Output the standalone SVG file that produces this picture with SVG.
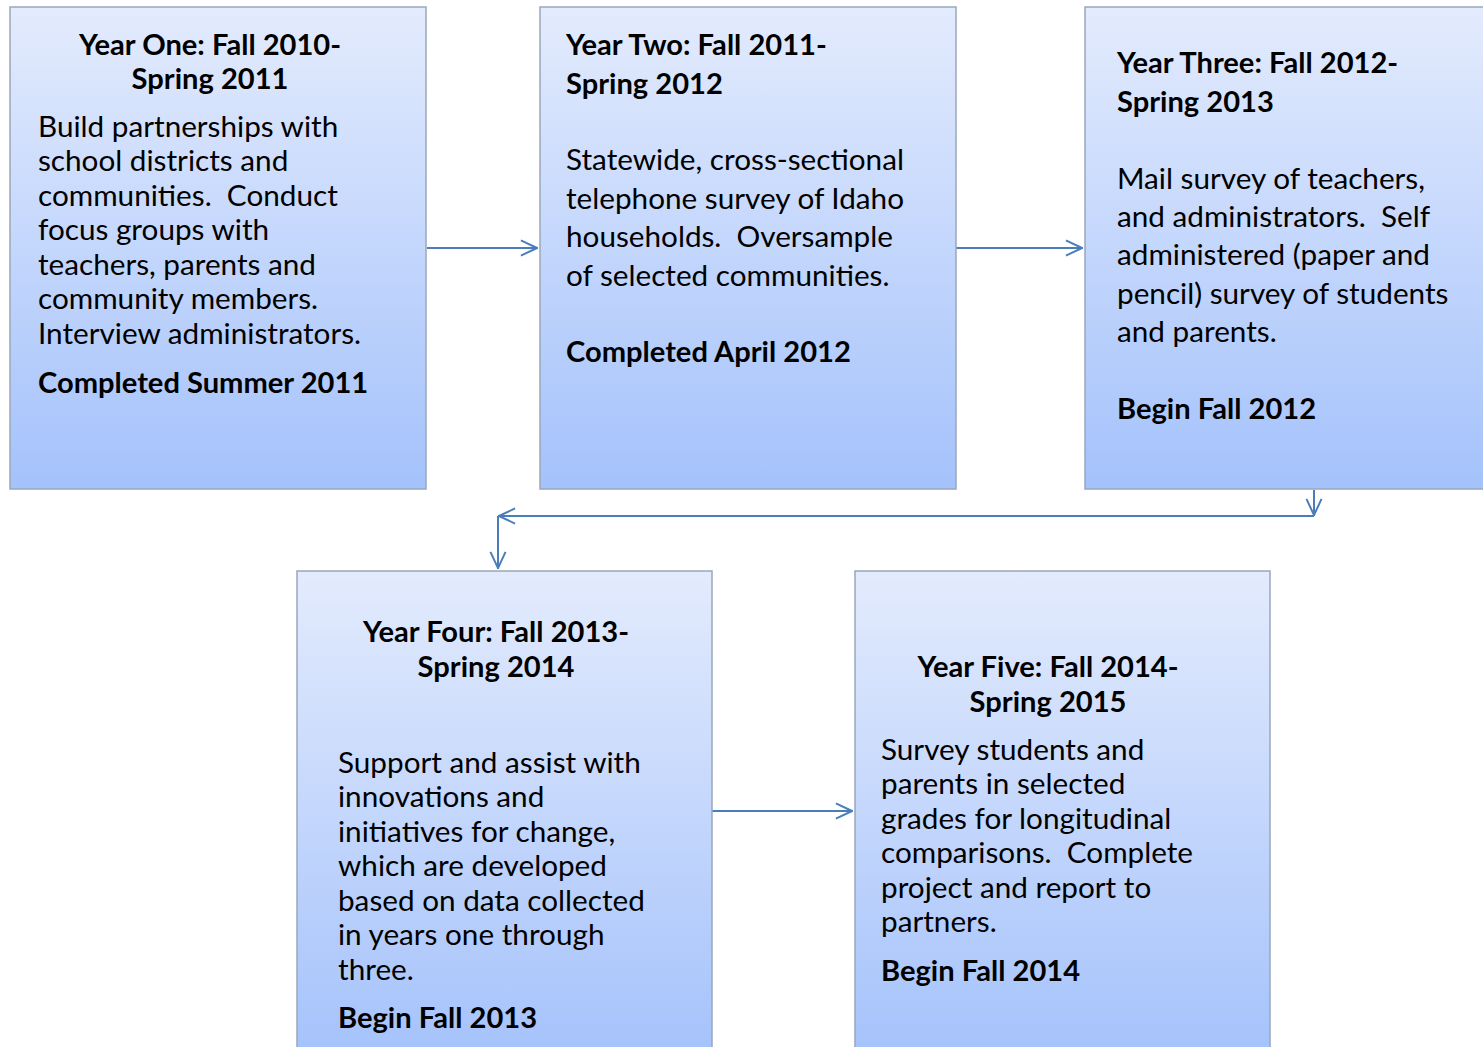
<svg xmlns="http://www.w3.org/2000/svg" width="1483" height="1047" viewBox="0 0 1483 1047">
<style>
.box{fill:url(#g);stroke:#9ba7ba;stroke-width:1.5}
text{font-family:Lato,"Open Sans","Liberation Sans",sans-serif;font-size:29.7px;fill:#000}
.t{font-weight:bold;font-size:29.1px}
.c{text-anchor:middle}
.conn{stroke:#4a7ebb;stroke-width:2;fill:none}
</style>
<defs>
<linearGradient id="g" x1="0" y1="0" x2="0" y2="1">
<stop offset="0" stop-color="#e3ebfd"/>
<stop offset="1" stop-color="#a4c2fb"/>
</linearGradient>
<marker id="ah" viewBox="0 0 10 10" refX="10" refY="5" markerWidth="18" markerHeight="18" markerUnits="userSpaceOnUse" orient="auto">
<path d="M0.5,0.8 L9.5,5 L0.5,9.2" fill="none" stroke="#4a7ebb" stroke-width="1.1"/>
</marker>
</defs>
<rect width="1483" height="1047" fill="#fff"/>
<g id="connectors">
<line class="conn" x1="427" y1="248" x2="538" y2="248" marker-end="url(#ah)"/>
<line class="conn" x1="956" y1="248" x2="1083" y2="248" marker-end="url(#ah)"/>
<line class="conn" x1="1314" y1="490" x2="1314" y2="516" marker-end="url(#ah)"/>
<line class="conn" x1="1314" y1="516" x2="498" y2="516" marker-end="url(#ah)"/>
<line class="conn" x1="498" y1="516" x2="498" y2="569" marker-end="url(#ah)"/>
<line class="conn" x1="712" y1="811" x2="853" y2="811" marker-end="url(#ah)"/>
</g>
<g id="year1">
<rect class="box" x="10" y="7" width="416" height="482"/>
<text class="t c" x="210" y="55">Year One: Fall 2010-</text>
<text class="t c" x="210" y="89">Spring 2011</text>
<text x="38" y="137">Build partnerships with</text>
<text x="38" y="171">school districts and</text>
<text x="38" y="206" xml:space="preserve">communities.  Conduct</text>
<text x="38" y="240">focus groups with</text>
<text x="38" y="275">teachers, parents and</text>
<text x="38" y="309">community members.</text>
<text x="38" y="344">Interview administrators.</text>
<text class="t" x="38" y="393">Completed Summer 2011</text>
</g>
<g id="year2">
<rect class="box" x="540" y="7" width="416" height="482"/>
<text class="t" x="566" y="55">Year Two: Fall 2011-</text>
<text class="t" x="566" y="94">Spring 2012</text>
<text x="566" y="170">Statewide, cross-sectional</text>
<text x="566" y="209">telephone survey of Idaho</text>
<text x="566" y="247" xml:space="preserve">households.  Oversample</text>
<text x="566" y="286">of selected communities.</text>
<text class="t" x="566" y="362">Completed April 2012</text>
</g>
<g id="year3">
<rect class="box" x="1085" y="7" width="410" height="482"/>
<text class="t" x="1117" y="73">Year Three: Fall 2012-</text>
<text class="t" x="1117" y="112">Spring 2013</text>
<text x="1117" y="189">Mail survey of teachers,</text>
<text x="1117" y="227" xml:space="preserve">and administrators.  Self</text>
<text x="1117" y="265">administered (paper and</text>
<text x="1117" y="304">pencil) survey of students</text>
<text x="1117" y="342">and parents.</text>
<text class="t" x="1117" y="419">Begin Fall 2012</text>
</g>
<g id="year4">
<rect class="box" x="297" y="571" width="415" height="490"/>
<text class="t c" x="496" y="642">Year Four: Fall 2013-</text>
<text class="t c" x="496" y="677">Spring 2014</text>
<text x="338" y="773">Support and assist with</text>
<text x="338" y="807">innovations and</text>
<text x="338" y="842">initiatives for change,</text>
<text x="338" y="876">which are developed</text>
<text x="338" y="911">based on data collected</text>
<text x="338" y="945">in years one through</text>
<text x="338" y="980">three.</text>
<text class="t" x="338" y="1028">Begin Fall 2013</text>
</g>
<g id="year5">
<rect class="box" x="855" y="571" width="415" height="490"/>
<text class="t c" x="1048" y="677">Year Five: Fall 2014-</text>
<text class="t c" x="1048" y="712">Spring 2015</text>
<text x="881" y="760">Survey students and</text>
<text x="881" y="794">parents in selected</text>
<text x="881" y="829">grades for longitudinal</text>
<text x="881" y="863" xml:space="preserve">comparisons.  Complete</text>
<text x="881" y="898">project and report to</text>
<text x="881" y="932">partners.</text>
<text class="t" x="881" y="981">Begin Fall 2014</text>
</g>
</svg>
